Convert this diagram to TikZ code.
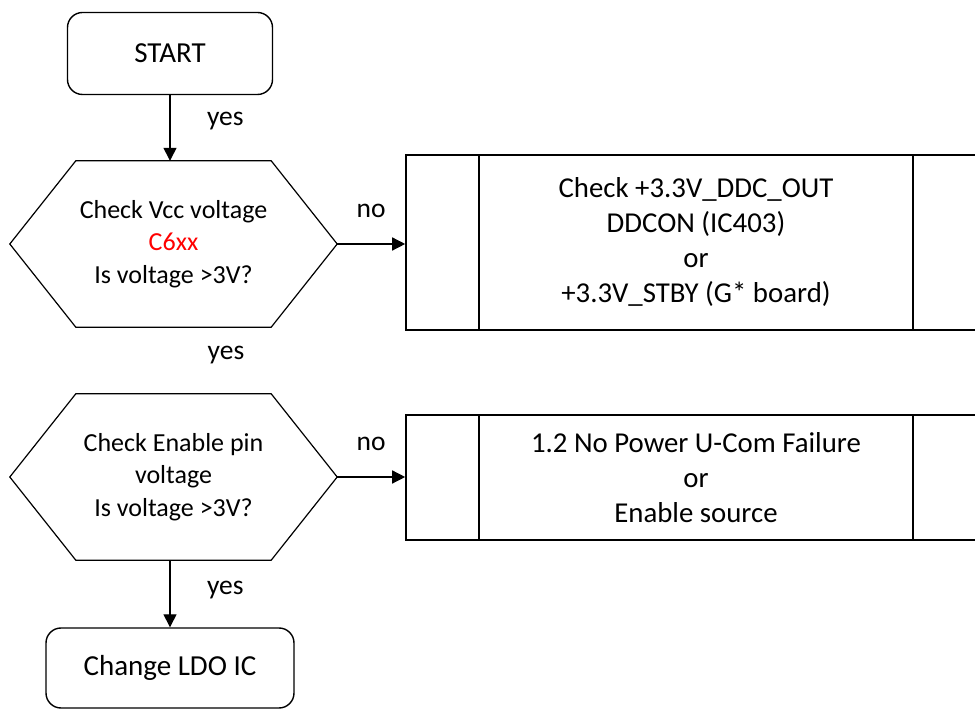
\documentclass[tikz,border=0pt]{standalone}
\usepackage{fontspec}
\setmainfont{Carlito}
\usetikzlibrary{positioning,arrows.meta}
\newcommand{\hexout}[1]{\draw[hexline] (#1.west) -- ([xshift=66pt]#1.north west) -- ([xshift=-66pt]#1.north east) -- (#1.east) -- ([xshift=-66pt]#1.south east) -- ([xshift=66pt]#1.south west) -- cycle;}

\begin{document}
\begin{tikzpicture}[x=1pt,y=1pt,
    term/.style={draw,line width=1.4pt,rounded corners=15pt,minimum width=205pt,minimum height=82pt,font=\fontsize{29}{34}\selectfont},
    decide/.style={minimum width=327pt,minimum height=166pt,align=center,font=\fontsize{26}{32.5}\selectfont},
    hexline/.style={line width=1.2pt},
    subproc/.style={draw,line width=1.6pt,minimum width=580pt,align=center,font=\fontsize{28.8}{35}\selectfont,
      path picture={\draw[line width=1.6pt]
        ([xshift=73pt]path picture bounding box.north west) -- ([xshift=73pt]path picture bounding box.south west)
        ([xshift=-73pt]path picture bounding box.north east) -- ([xshift=-73pt]path picture bounding box.south east);}},
    lbl/.style={font=\fontsize{27.5}{30}\selectfont},
    flow/.style={line width=1.4pt,-{Triangle[length=13pt,width=13pt]}}]
    \useasboundingbox (0,0) rectangle (975,710);
    \clip (0,0) rectangle (975,710);
    % nodes
    \node[term] (start) at (170,656.5) {START};
    \node[decide] (chkvcc) at (173.5,466) {Check Vcc voltage\\\textcolor{red}{C6xx}\\Is voltage >3V?};
    \hexout{chkvcc}
    \node[subproc,minimum height=175pt] (ddc) at (696,467.5) {Check +3.3V\_DDC\_OUT\\DDCON (IC403)\\or\\+3.3V\_STBY (G* board)};
    \node[lbl] (yesmid) at (226,355) {yes};
    \node[decide] (chken) at (173.5,233) {Check Enable pin\\voltage\\Is voltage >3V?};
    \hexout{chken}
    \node[subproc,minimum height=125pt] (ucom) at (696,232.5) {1.2 No Power U-Com Failure\\or\\Enable source};
    \node[term,minimum width=248pt,minimum height=80pt] (ldo) at (170,42) {Change LDO IC};
    % connectors
    \draw[flow] (start.south) -- node[lbl,pos=0.4,right=33pt] {yes} (start.south |- chkvcc.north);
    \draw[flow] (chkvcc.east) -- node[lbl,above=22pt] {no} (chkvcc.east -| ddc.west);
    \draw[flow] (chken.east) -- node[lbl,above=22pt] {no} (chken.east -| ucom.west);
    \draw[flow] (ldo.north |- chken.south) -- node[lbl,pos=0.44,right=33pt] {yes} (ldo.north);
\end{tikzpicture}
\end{document}
